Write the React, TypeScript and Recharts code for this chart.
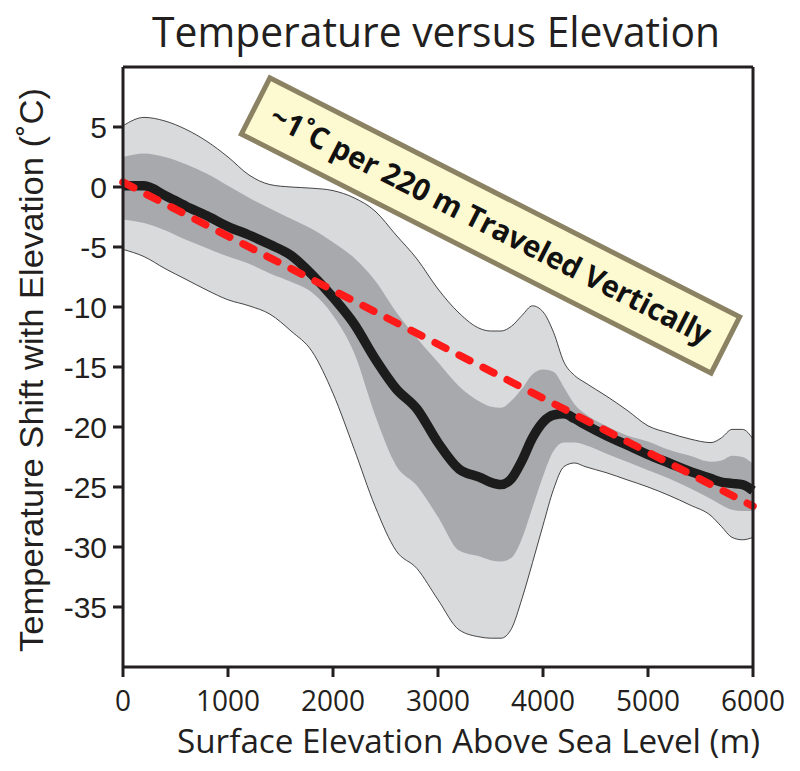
import React from "react";
import { ComposedChart, Area, Line, XAxis, YAxis } from "recharts";

const elevation = [0,200,400,600,800,1000,1200,1400,1600,1800,2000,2200,2400,2600,2800,3000,3200,3400,3500,3600,3700,3800,3900,4000,4100,4200,4300,4400,4600,4800,5000,5200,5400,5600,5700,5800,5900,6000];
const meanShift = [0.1,0.1,-0.7,-1.6,-2.4,-3.3,-4.0,-4.8,-5.7,-7.3,-9.2,-11.4,-14.3,-16.8,-18.5,-21.3,-23.5,-24.2,-24.6,-24.8,-24.3,-22.8,-20.9,-19.6,-19.0,-18.9,-19.3,-19.8,-20.7,-21.5,-22.3,-23.0,-23.7,-24.3,-24.6,-24.7,-24.8,-25.3];
const outerHigh = [5.1,5.8,5.5,4.8,3.8,2.5,1.0,0.2,0.0,-0.1,-0.3,-0.9,-2.0,-4.0,-6.0,-8.5,-10.5,-11.8,-12.0,-12.0,-11.6,-10.7,-9.9,-10.4,-12.1,-14.6,-15.7,-16.3,-17.4,-18.6,-19.9,-20.5,-21.0,-21.3,-20.9,-20.2,-20.2,-21.0];
const outerLow = [-5.2,-5.8,-6.8,-7.7,-8.6,-9.4,-9.9,-10.6,-12.0,-13.7,-17.2,-21.8,-26.6,-30.3,-31.8,-34.4,-36.9,-37.5,-37.6,-37.6,-36.8,-34.3,-31.3,-28.2,-25.2,-23.3,-23.0,-23.3,-23.8,-24.4,-25.0,-25.7,-26.5,-27.4,-28.3,-29.2,-29.4,-29.2];
const innerHigh = [2.5,2.8,2.5,1.9,1.1,0.1,-0.9,-1.8,-2.65,-3.5,-4.6,-5.9,-7.8,-10.4,-12.6,-14.6,-16.6,-17.9,-18.3,-18.4,-17.8,-16.8,-15.6,-15.2,-15.4,-16.7,-18.1,-18.9,-19.9,-20.7,-21.2,-21.9,-22.4,-22.9,-22.8,-22.4,-22.5,-23.1];
const innerLow = [-2.7,-3.0,-3.6,-4.4,-5.1,-5.8,-6.4,-7.2,-7.9,-8.8,-10.7,-13.8,-19.0,-23.2,-24.9,-27.5,-30.3,-30.8,-31.1,-31.2,-30.9,-29.3,-26.7,-24.1,-22.0,-21.3,-21.3,-21.5,-22.2,-22.9,-23.6,-24.3,-25.1,-26.0,-26.5,-26.9,-27.0,-27.0];

const lapseElevation = [0, 6000];
const lapseShift = [0.4, -26.6];

const xTicks = [0, 1000, 2000, 3000, 4000, 5000, 6000];
const yTicks = [5, 0, -5, -10, -15, -20, -25, -30, -35];

const titleText = "Temperature versus Elevation";
const xLabelText = "Surface Elevation Above Sea Level (m)";
const yLabelText = "Temperature Shift with Elevation (˚C)";
const noteText = "~1˚C per 220 m Traveled Vertically";

const data = elevation.map((e, i) => ({
  elevation: e,
  mean: meanShift[i],
  outer: [outerLow[i], outerHigh[i]],
  inner: [innerLow[i], innerHigh[i]],
}));
const lapseData = lapseElevation.map((e, i) => ({ elevation: e, lapse: lapseShift[i] }));

const INK = "#231f20";

const XTick = (p: any) => {
  const s = String(p.payload.value);
  return (
    <text x={p.x} y={p.y + 34} textAnchor="middle" fontFamily="Open Sans" fontSize={30} fill={INK}
      textLength={s.length * 16} lengthAdjust="spacingAndGlyphs">{s}</text>
  );
};
const YTick = (p: any) => (
  <text x={p.x - 6} y={p.y + 11} textAnchor="end" fontFamily="Liberation Sans, Arial" fontSize={30} fill={INK}>
    {String(p.payload.value)}
  </text>
);
const NoTick = () => <g />;

export default function App() {
  return (
    <div style={{ position: "absolute", left: 0, top: 0, width: 800, height: 771, background: "#fff" }}>
      <ComposedChart width={800} height={771} data={data} margin={{ top: 66, right: 46, bottom: 0, left: 0 }}>
        <XAxis dataKey="elevation" type="number" domain={[0, 6000]} ticks={xTicks} interval={0}
          height={104} tickSize={10} tickMargin={0}
          axisLine={{ stroke: INK, strokeWidth: 3 }} tickLine={{ stroke: INK, strokeWidth: 3 }}
          tick={(p: any) => <XTick {...p} />} />
        <XAxis xAxisId="top" orientation="top" dataKey="elevation" type="number" domain={[0, 6000]}
          height={1} tick={NoTick} tickLine={false} axisLine={{ stroke: INK, strokeWidth: 3 }} />
        <YAxis type="number" domain={[-40, 10]} ticks={yTicks} interval={0} width={123} tickSize={10} tickMargin={0}
          axisLine={{ stroke: INK, strokeWidth: 3 }} tickLine={{ stroke: INK, strokeWidth: 3 }}
          tick={(p: any) => <YTick {...p} />} />
        <YAxis yAxisId="right" orientation="right" type="number" domain={[-40, 10]} ticks={yTicks} interval={0}
          width={1} tickSize={10} tickMargin={0}
          axisLine={{ stroke: INK, strokeWidth: 3 }} tickLine={{ stroke: INK, strokeWidth: 3 }} tick={NoTick} />
        <Area dataKey="outer" type="monotone" fill="#d9dadc" fillOpacity={1} stroke="#1a1a1a" strokeWidth={0.8}
          isAnimationActive={false} activeDot={false} dot={false} />
        <Area dataKey="inner" type="monotone" fill="#a8a9ac" fillOpacity={1} stroke="none"
          isAnimationActive={false} activeDot={false} dot={false} />
        <Line dataKey="mean" type="monotone" stroke="#1c1c1c" strokeWidth={9.5} dot={false} activeDot={false}
          isAnimationActive={false} />
        <Line data={lapseData} dataKey="lapse" type="linear" stroke="#ff1a1a" strokeWidth={7.5}
          strokeDasharray="12 15" strokeLinecap="round" dot={false} activeDot={false} isAnimationActive={false} />
      </ComposedChart>
      <svg width={800} height={771} style={{ position: "absolute", left: 0, top: 0, pointerEvents: "none" }}>
        <text x={152} y={47} fontFamily="Open Sans" fontSize={42} fill={INK} textLength={568}
          lengthAdjust="spacingAndGlyphs">{titleText}</text>
        <text x={177} y={753} fontFamily="Open Sans" fontSize={33} fill={INK} textLength={583}
          lengthAdjust="spacingAndGlyphs">{xLabelText}</text>
        <text transform="translate(43,652) rotate(-90)" x={0} y={0} fontFamily="Liberation Sans, Arial" fontSize={34}
          fill={INK} textLength={564} lengthAdjust="spacingAndGlyphs">{yLabelText}</text>
        <g transform="translate(490.5,225.5) rotate(26.96)">
          <rect x={-263.5} y={-31.5} width={527} height={63} fill="#fdf9d0" stroke="#8a8262" strokeWidth={5} />
          <text x={0} y={10} textAnchor="middle" fontFamily="Open Sans" fontWeight="bold" fontSize={30} fill="#111"
            textLength={490} lengthAdjust="spacingAndGlyphs">{noteText}</text>
        </g>
      </svg>
    </div>
  );
}
